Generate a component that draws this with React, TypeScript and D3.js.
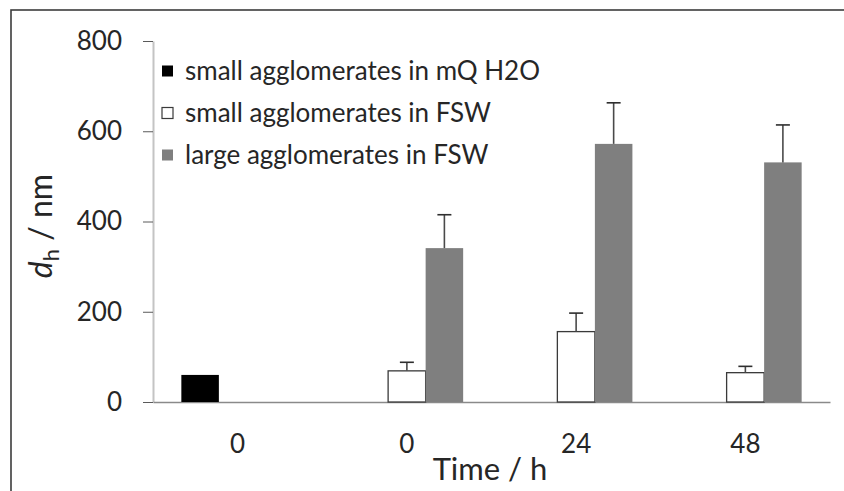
import { useEffect, useRef } from 'react'
import * as d3 from 'd3'

const categories = ['0', '0', '24', '48']
const seriesNames = ['small agglomerates in mQ H2O', 'small agglomerates in FSW', 'large agglomerates in FSW']
const smallMq = [60, null, null, null]
const smallFsw = [null, 69, 156, 65]
const smallFswErr = [null, 19, 41, 14]
const largeFsw = [null, 341, 572, 531]
const largeFswErr = [null, 74, 91, 83]
const yTicks = [0, 200, 400, 600, 800]

const W = 844
const H = 491
const FONT = 'Lato, sans-serif'

const fills = ['#000000', '#ffffff', '#7f7f7f']
const strokes = ['none', '#3a3a3a', 'none']

export default function App() {
  const svgRef = useRef<SVGSVGElement | null>(null)

  useEffect(() => {
    const svg = d3.select(svgRef.current)
    svg.selectAll('*').remove()

    const values = [smallMq, smallFsw, largeFsw]
    const errors = [[null, null, null, null], smallFswErr, largeFswErr]

    const rows = categories.flatMap((cat, i) =>
      seriesNames.map((name, s) => ({ i, s, value: values[s][i], err: errors[s][i] }))
    ).filter(d => d.value != null)

    const x0 = d3.scaleBand<string>()
      .domain(categories.map((_, i) => String(i)))
      .range([153, 830])
      .paddingInner(0.335)
      .paddingOuter(0.1675)

    const x1 = d3.scaleBand<number>()
      .domain([0, 1, 2])
      .range([0, x0.bandwidth()])

    const y = d3.scaleLinear().domain([0, 800]).range([402, 41])

    svg.append('rect').attr('width', W).attr('height', H).attr('fill', '#ffffff')

    // outer frame, cut off at right and bottom like the source
    svg.append('rect')
      .attr('x', 11).attr('y', 10)
      .attr('width', 900).attr('height', 600)
      .attr('fill', 'none')
      .attr('stroke', '#3c3c3c')
      .attr('stroke-width', 1.6)

    // y axis
    const yAxis = svg.append('g')
      .attr('transform', 'translate(153,0)')
      .call(d3.axisLeft(y).tickValues(yTicks).tickSize(10).tickSizeOuter(0).tickPadding(21))
    yAxis.select('.domain').attr('stroke', '#c4c4c4').attr('stroke-width', 2)
    yAxis.selectAll('.tick line').attr('stroke', '#5a5a5a').attr('stroke-width', 1)
    yAxis.selectAll('.tick text')
      .attr('fill', '#262626')
      .attr('font-family', FONT)
      .attr('font-size', 26)

    // x axis
    const xAxis = svg.append('g')
      .attr('transform', 'translate(0,402)')
      .call(d3.axisBottom(x0).tickSize(0).tickSizeOuter(0).tickFormat(d => categories[+d]))
    xAxis.select('.domain').attr('stroke', '#8a8a8a').attr('stroke-width', 1.5)
    xAxis.selectAll('.tick text')
      .attr('y', 51)
      .attr('dy', 0)
      .attr('fill', '#262626')
      .attr('font-family', FONT)
      .attr('font-size', 26)

    // bars
    svg.append('g')
      .selectAll('rect')
      .data(rows)
      .join('rect')
      .attr('x', d => (x0(String(d.i)) ?? 0) + (x1(d.s) ?? 0))
      .attr('y', d => y(d.value as number))
      .attr('width', x1.bandwidth())
      .attr('height', d => y(0) - y(d.value as number))
      .attr('fill', d => fills[d.s])
      .attr('stroke', d => strokes[d.s])
      .attr('stroke-width', 1.3)

    // error bars (plus only)
    const errRows = rows.filter(d => d.err != null)
    const eg = svg.append('g').attr('stroke', '#4a4a4a').attr('stroke-width', 1.6)
    errRows.forEach(d => {
      const cx = (x0(String(d.i)) ?? 0) + (x1(d.s) ?? 0) + x1.bandwidth() / 2
      const top = y((d.value as number) + (d.err as number))
      eg.append('line').attr('x1', cx).attr('x2', cx).attr('y1', y(d.value as number)).attr('y2', top)
      eg.append('line').attr('x1', cx - 7).attr('x2', cx + 7).attr('y1', top).attr('y2', top).attr('stroke', '#2e2e2e')
    })

    // legend
    const legend = svg.append('g')
      .selectAll('g')
      .data(seriesNames)
      .join('g')
      .attr('transform', (_, i) => `translate(162,${71 + i * 42})`)

    legend.append('rect')
      .attr('x', 0).attr('y', -5.5)
      .attr('width', 11).attr('height', 11)
      .attr('fill', (_, i) => fills[i])
      .attr('stroke', (_, i) => i === 1 ? '#3a3a3a' : 'none')
      .attr('stroke-width', 1.2)

    legend.append('text')
      .attr('x', 23)
      .attr('dy', '0.35em')
      .attr('fill', '#262626')
      .attr('font-family', FONT)
      .attr('font-size', 26)
      .text(d => d)

    // axis titles
    svg.append('text')
      .attr('x', 490).attr('y', 480)
      .attr('text-anchor', 'middle')
      .attr('fill', '#262626')
      .attr('font-family', FONT)
      .attr('font-size', 31)
      .text('Time / h')

    const yTitle = svg.append('text')
      .attr('transform', 'translate(52,226) rotate(-90)')
      .attr('text-anchor', 'middle')
      .attr('fill', '#262626')
      .attr('font-family', FONT)
      .attr('font-size', 32)
    yTitle.append('tspan').attr('font-style', 'italic').text('d')
    yTitle.append('tspan').attr('font-size', 22).attr('dy', 7).text('h')
    yTitle.append('tspan').attr('dy', -7).text(' / nm')
  }, [])

  return (
    <div style={{ position: 'fixed', left: 0, top: 0, width: W, height: H, background: '#fff' }}>
      <svg ref={svgRef} width={W} height={H} style={{ display: 'block' }} />
    </div>
  )
}
